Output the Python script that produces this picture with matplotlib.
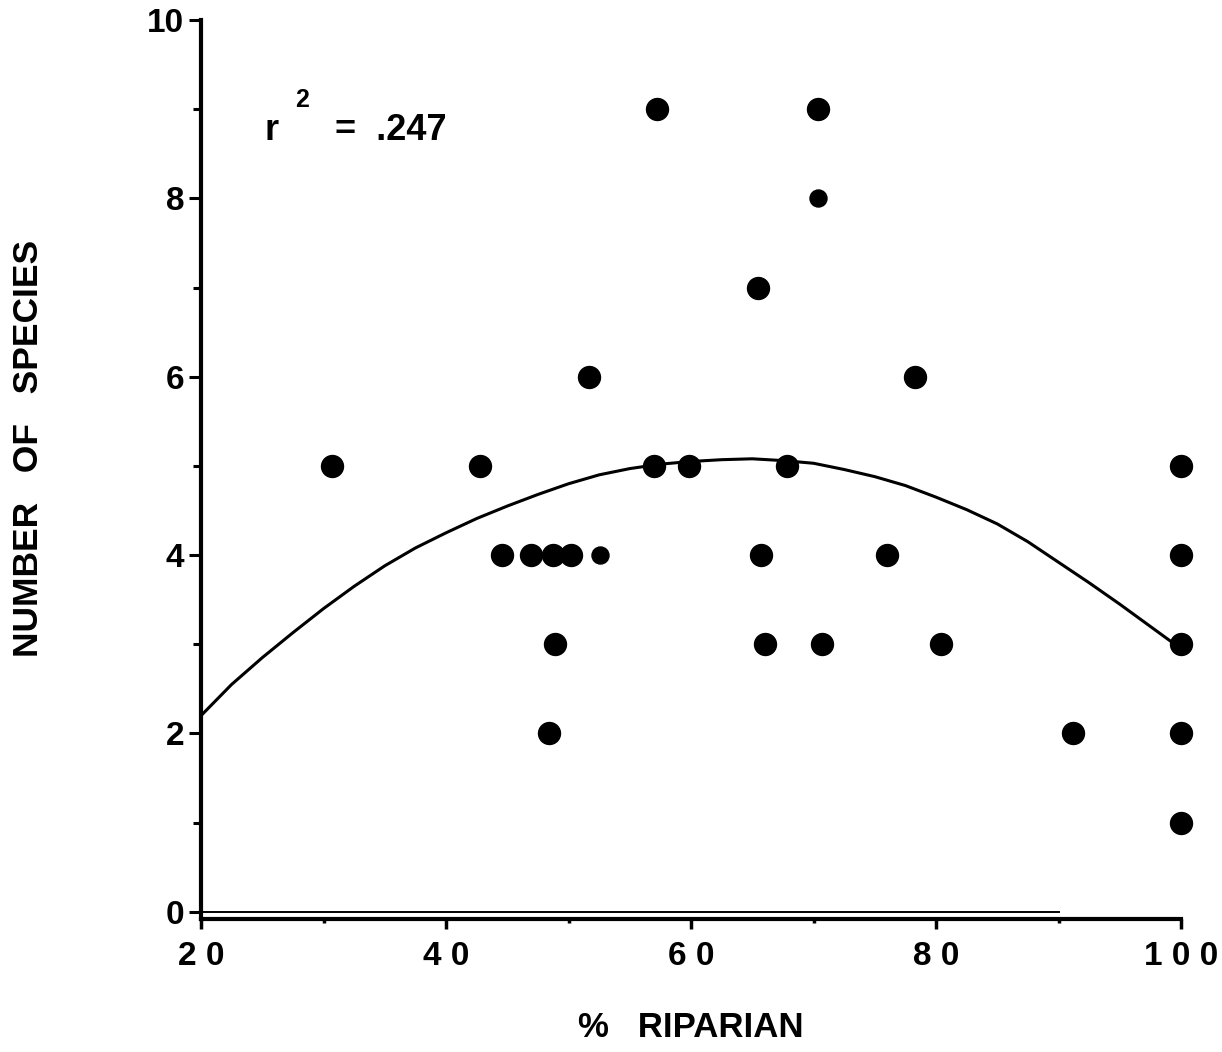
import matplotlib
matplotlib.use("Agg")
import matplotlib.pyplot as plt
from matplotlib.ticker import MultipleLocator

plt.rcParams['font.family'] = ['Liberation Sans', 'DejaVu Sans']
plt.rcParams['font.weight'] = 'bold'

# sites: % riparian vs number of species
big_x = [30.7, 42.8, 44.6, 46.9, 48.7, 50.2, 48.9, 48.4, 51.7, 57.2, 57.0, 59.8,
         65.5, 65.7, 66.0, 67.8, 70.4, 70.7, 76.0, 78.3, 80.4, 91.2,
         100, 100, 100, 100, 100]
big_y = [5, 5, 4, 4, 4, 4, 3, 2, 6, 9, 5, 5,
         7, 4, 3, 5, 9, 3, 4, 6, 3, 2,
         5, 4, 3, 2, 1]
small_x = [52.6, 70.4]
small_y = [4, 8]

# fitted curve
fit_x = [20, 22.5, 25, 27.5, 30, 32.5, 35, 37.5, 40, 42.5, 45, 47.5, 50, 52.5,
         55, 57.5, 60, 62.5, 65, 67.5, 70, 72.5, 75, 77.5, 80, 82.5, 85, 87.5,
         90, 92.5, 95, 97.5, 100]
fit_y = [2.2, 2.55, 2.85, 3.13, 3.4, 3.65, 3.88, 4.08, 4.25, 4.41, 4.55, 4.68,
         4.8, 4.9, 4.97, 5.02, 5.05, 5.07, 5.08, 5.06, 5.03, 4.96, 4.88, 4.78,
         4.65, 4.51, 4.35, 4.15, 3.92, 3.69, 3.45, 3.2, 2.95]

x_ticks = [20, 40, 60, 80, 100]
x_labels = ['2 0', '4 0', '6 0', '8 0', '1 0 0']
y_ticks = [0, 2, 4, 6, 8, 10]

fig = plt.figure(figsize=(12.22, 10.52), dpi=100)
ax = fig.add_axes([201 / 1222, 133 / 1052, 980 / 1222, 899 / 1052])

ax.plot(fit_x, fit_y, color='black', lw=2.2)
ax.plot([20, 90], [0, 0], color='black', lw=1.4)
ax.scatter(big_x, big_y, s=250, color='black', clip_on=False, zorder=3)
ax.scatter(small_x, small_y, s=150, color='black', clip_on=False, zorder=3)

ax.set_xlim(20, 100)
ax.set_ylim(-0.08, 10)
for side in ['top', 'right']:
    ax.spines[side].set_visible(False)
for side in ['left', 'bottom']:
    ax.spines[side].set_linewidth(3)
ax.spines['left'].set_bounds(-0.08, 10)

ax.set_xticks(x_ticks)
ax.set_xticklabels(x_labels)
ax.set_yticks(y_ticks)
ax.xaxis.set_minor_locator(MultipleLocator(10))
ax.yaxis.set_minor_locator(MultipleLocator(1))
ax.tick_params(axis='x', which='major', length=7, width=2.5, pad=9, labelsize=24)
ax.tick_params(axis='x', which='minor', length=3, width=2.5)
ax.tick_params(axis='y', which='major', length=9, width=2.2, pad=3, labelsize=24)
ax.tick_params(axis='y', which='minor', length=6, width=2.2)

ax.set_xlabel('%   RIPARIAN', fontsize=25, fontweight='bold', labelpad=28)
ax.set_ylabel('NUMBER   OF   SPECIES', fontsize=25.5, fontweight='bold')
ax.yaxis.set_label_coords(-0.159, 0.523)

ax.text(25.2, 8.65, 'r', fontsize=26, fontweight='bold')
ax.text(27.7, 9.02, '2', fontsize=18, fontweight='bold')
ax.text(30.9, 8.65, '=  .247', fontsize=26, fontweight='bold')

fig.savefig('out.png', dpi=100)
